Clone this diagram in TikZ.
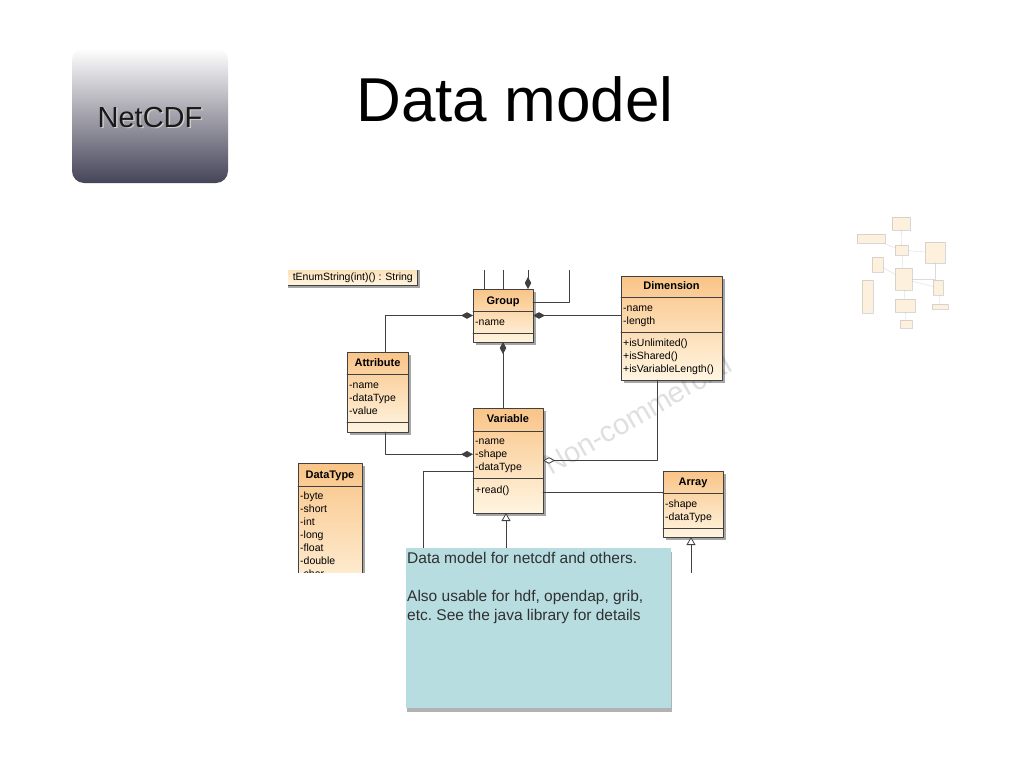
\documentclass[tikz,border=0pt]{standalone}
\usepackage{fontspec}
\setmainfont{Liberation Sans}
\usetikzlibrary{arrows.meta,shadows,positioning}

\definecolor{clstop}{RGB}{249,196,135}
\definecolor{clsbot}{RGB}{255,245,225}
\definecolor{umlline}{RGB}{64,64,64}
\definecolor{notefill}{RGB}{184,221,225}
\definecolor{notetext}{RGB}{48,48,48}
\definecolor{badgebot}{RGB}{70,68,88}
\definecolor{badgemid}{RGB}{206,206,212}
\definecolor{thumbfill}{RGB}{252,228,190}

\tikzset{
  cls/.style={draw=umlline, line width=0.8pt, top color=clstop, bottom color=clsbot,
    anchor=north west, inner sep=0pt, outer sep=0pt,
    drop shadow={shadow xshift=2.5pt, shadow yshift=-2.5pt, opacity=0.35, fill=black}},
  hdr/.style={font=\fontsize{11}{13}\selectfont\bfseries, anchor=base, inner sep=0pt},
  item/.style={font=\fontsize{10.5}{13}\selectfont, anchor=base west, inner sep=0pt},
  link/.style={draw=umlline, line width=0.8pt},
  comp/.style={arrows={Diamond[length=12pt,width=6.5pt]-}},
  aggr/.style={arrows={Diamond[length=12pt,width=6.5pt,fill=white]-}},
  gen/.style={arrows={-Triangle[length=8pt,width=9pt,fill=white]}},
  badge/.style={rounded corners=12pt, top color=white, middle color=badgemid, bottom color=badgebot,
    minimum width=156pt, minimum height=135pt, inner sep=0pt},
  badgetxt/.style={font=\fontsize{29}{29}\selectfont, inner sep=0pt},
  notebox/.style={fill=notefill, anchor=north west, inner sep=0pt, outer sep=0pt,
    drop shadow={shadow xshift=1pt, shadow yshift=-4pt, opacity=0.3, fill=black}},
  notetxt/.style={font=\fontsize{15.5}{19}\selectfont\frenchspacing, text=notetext, align=left, inner sep=0pt},
  thumb/.style={draw=gray!60, fill=thumbfill, inner sep=0pt, line width=0.4pt},
  thumbline/.style={draw=gray!55, line width=0.4pt}
}

\begin{document}
\begin{tikzpicture}[x=1pt,y=-1pt,line cap=round,line join=round]
\useasboundingbox (0,0) rectangle (1024,768);
\fill[white] (0,0) rectangle (1024,768);

% header
\node[badge] (badge) at (150,115.5) {};
\node[badgetxt, text=gray!40] (badgeshd) at (151.5,119) {NetCDF};
\node[badgetxt, text=black!90] (badgelbl) at (150,117.5) {NetCDF};
\node[font=\fontsize{62}{62}\selectfont, anchor=base] (title) at (515,121) {Data model};

% uml screenshot
\begin{scope}
\clip (288,270) rectangle (740,572);

\node[rotate=30, anchor=base west, text=gray, opacity=0.25, font=\fontsize{29}{29}\selectfont, inner sep=0pt]
  (mark) at (551,476) {Non-commercial};

\node[cls, minimum width=160pt, minimum height=36pt] (enum) at (257,249) {};
\node[item, anchor=base east] (enumop) at (413,280) {tEnumString(int)() : String};

% Group
\node[cls, minimum width=60pt, minimum height=53pt] (grp) at (473,289) {};
\draw[link] (grp.west |- 0,311) -- (grp.east |- 0,311);
\draw[link] (grp.west |- 0,333) -- (grp.east |- 0,333);
\node[hdr] (grpt) at (503,304) {Group};
\node[item] (gname) at (475,325) {-name};

% Attribute
\node[cls, minimum width=61pt, minimum height=80pt] (attr) at (347,352) {};
\draw[link] (attr.west |- 0,374) -- (attr.east |- 0,374);
\draw[link] (attr.west |- 0,422) -- (attr.east |- 0,422);
\node[hdr] (attrt) at (377.5,366) {Attribute};
\node[item] (aname) at (349,388) {-name};
\node[item] (atype) at (349,401) {-dataType};
\node[item] (avalue) at (349,414) {-value};

% Variable
\node[cls, minimum width=70pt, minimum height=105pt] (var) at (473,408) {};
\draw[link] (var.west |- 0,431) -- (var.east |- 0,431);
\draw[link] (var.west |- 0,478) -- (var.east |- 0,478);
\node[hdr] (vart) at (508,422) {Variable};
\node[item] (vname) at (475,444) {-name};
\node[item] (vshape) at (475,457) {-shape};
\node[item] (vtype) at (475,470) {-dataType};
\node[item] (vread) at (475,493) {+read()};

% Dimension
\node[cls, minimum width=101pt, minimum height=104pt] (dim) at (621,276) {};
\draw[link] (dim.west |- 0,297) -- (dim.east |- 0,297);
\draw[link] (dim.west |- 0,332) -- (dim.east |- 0,332);
\node[hdr] (dimt) at (671.5,289) {Dimension};
\node[item] (dname) at (623,311) {-name};
\node[item] (dlength) at (623,324) {-length};
\node[item] (dunlim) at (623,346) {+isUnlimited()};
\node[item] (dshared) at (623,359) {+isShared()};
\node[item] (dvarlen) at (623,372) {+isVariableLength()};

% Array
\node[cls, minimum width=60pt, minimum height=66pt] (arr) at (663,471) {};
\draw[link] (arr.west |- 0,493) -- (arr.east |- 0,493);
\draw[link] (arr.west |- 0,528) -- (arr.east |- 0,528);
\node[hdr] (arrt) at (693,485) {Array};
\node[item] (rshape) at (665,507) {-shape};
\node[item] (rtype) at (665,520) {-dataType};

% DataType
\node[cls, minimum width=64pt, minimum height=140pt] (dtype) at (298,463) {};
\draw[link] (dtype.west |- 0,486) -- (dtype.east |- 0,486);
\node[hdr] (dtypet) at (330,478) {DataType};
\node[item] (tbyte) at (300,499) {-byte};
\node[item] (tshort) at (300,512) {-short};
\node[item] (tint) at (300,525) {-int};
\node[item] (tlong) at (300,538) {-long};
\node[item] (tfloat) at (300,551) {-float};
\node[item] (tdouble) at (300,564) {-double};
\node[item] (tchar) at (300,577) {-char};

% free ends
\coordinate (topA) at (484,262);
\coordinate (topB) at (503,262);
\coordinate (topC) at (528,262);
\coordinate (topD) at (569,262);
\coordinate (grpr) at ([yshift=13pt]grp.east);
\coordinate (attrtop) at ([xshift=7.5pt]attr.north);
\coordinate (attrbot) at ([xshift=7.5pt]attr.south);
\coordinate (dimbot) at ([xshift=-14.5pt]dim.south);
\coordinate (varr) at ([yshift=-31.5pt]var.east);
\coordinate (varl) at ([yshift=-10.5pt]var.west);
\coordinate (notecut) at (423,565);
\coordinate (genAbot) at (506,565);
\coordinate (genBbot) at (691,580);

\draw[link] (topA) -- (topA |- grp.north);
\draw[link] (topB) -- (grp.north);
\draw[link,comp] (grp.north -| topC) -- (topC);
\draw[link] (grpr) -| (topD);
\draw[link,comp] (grp.west) -| (attrtop);
\draw[link,comp] (grp.east) -- (grp.east -| dim.west);
\draw[link,comp] (grp.south) -- (grp.south |- var.north);
\draw[link,comp] (var.west |- vshape) -| (attrbot);
\draw[link,aggr] (var.east) -| (dimbot);
\draw[link] (varr) -- (varr -| arr.west);
\draw[link] (varl) -| (notecut);
\draw[link,gen] (genAbot) -- (genAbot |- var.south);
\draw[link,gen] (genBbot) -- (genBbot |- arr.south);
\end{scope}

% note
\node[notebox, minimum width=265pt, minimum height=160pt] (note) at (406,548) {};
\node[notetxt, anchor=north west] (notelbl) at ([shift={(1pt,-4pt)}]note.north west)
  {Data model for netcdf and others.\\[19pt]Also usable for hdf, opendap, grib,\\etc. See the java library for details};

% thumbnail
\begin{scope}[opacity=0.5]
\foreach \n/\xa/\ya/\w/\h in {1/892/217/18/13, 2/857/234/28/9, 3/895/245/13/10, 4/925/242/20/21,
  5/872/257/11/15, 6/895/268/17/22, 7/862/280/11/33, 8/933/280/10/15, 9/895/299/20/13,
  10/932/304/16/5, 11/900/320/12/8}
  \node[thumb, anchor=north west, minimum width=\w pt, minimum height=\h pt] (th\n) at (\xa,\ya) {};
\draw[thumbline] (th3) -- (th1);
\draw[thumbline] (th3) -- (th2);
\draw[thumbline] (th3) -- (th4);
\draw[thumbline] (th3) -- (th6);
\draw[thumbline] (th5) -- (th6);
\draw[thumbline] (th6) -- (th8);
\draw[thumbline] (th6) -- (th9);
\draw[thumbline] (th8) -- (th10);
\draw[thumbline] (th9) -- (th11);
\draw[thumbline] (th4.south) |- (th6.east);
\end{scope}
\end{tikzpicture}
\end{document}
